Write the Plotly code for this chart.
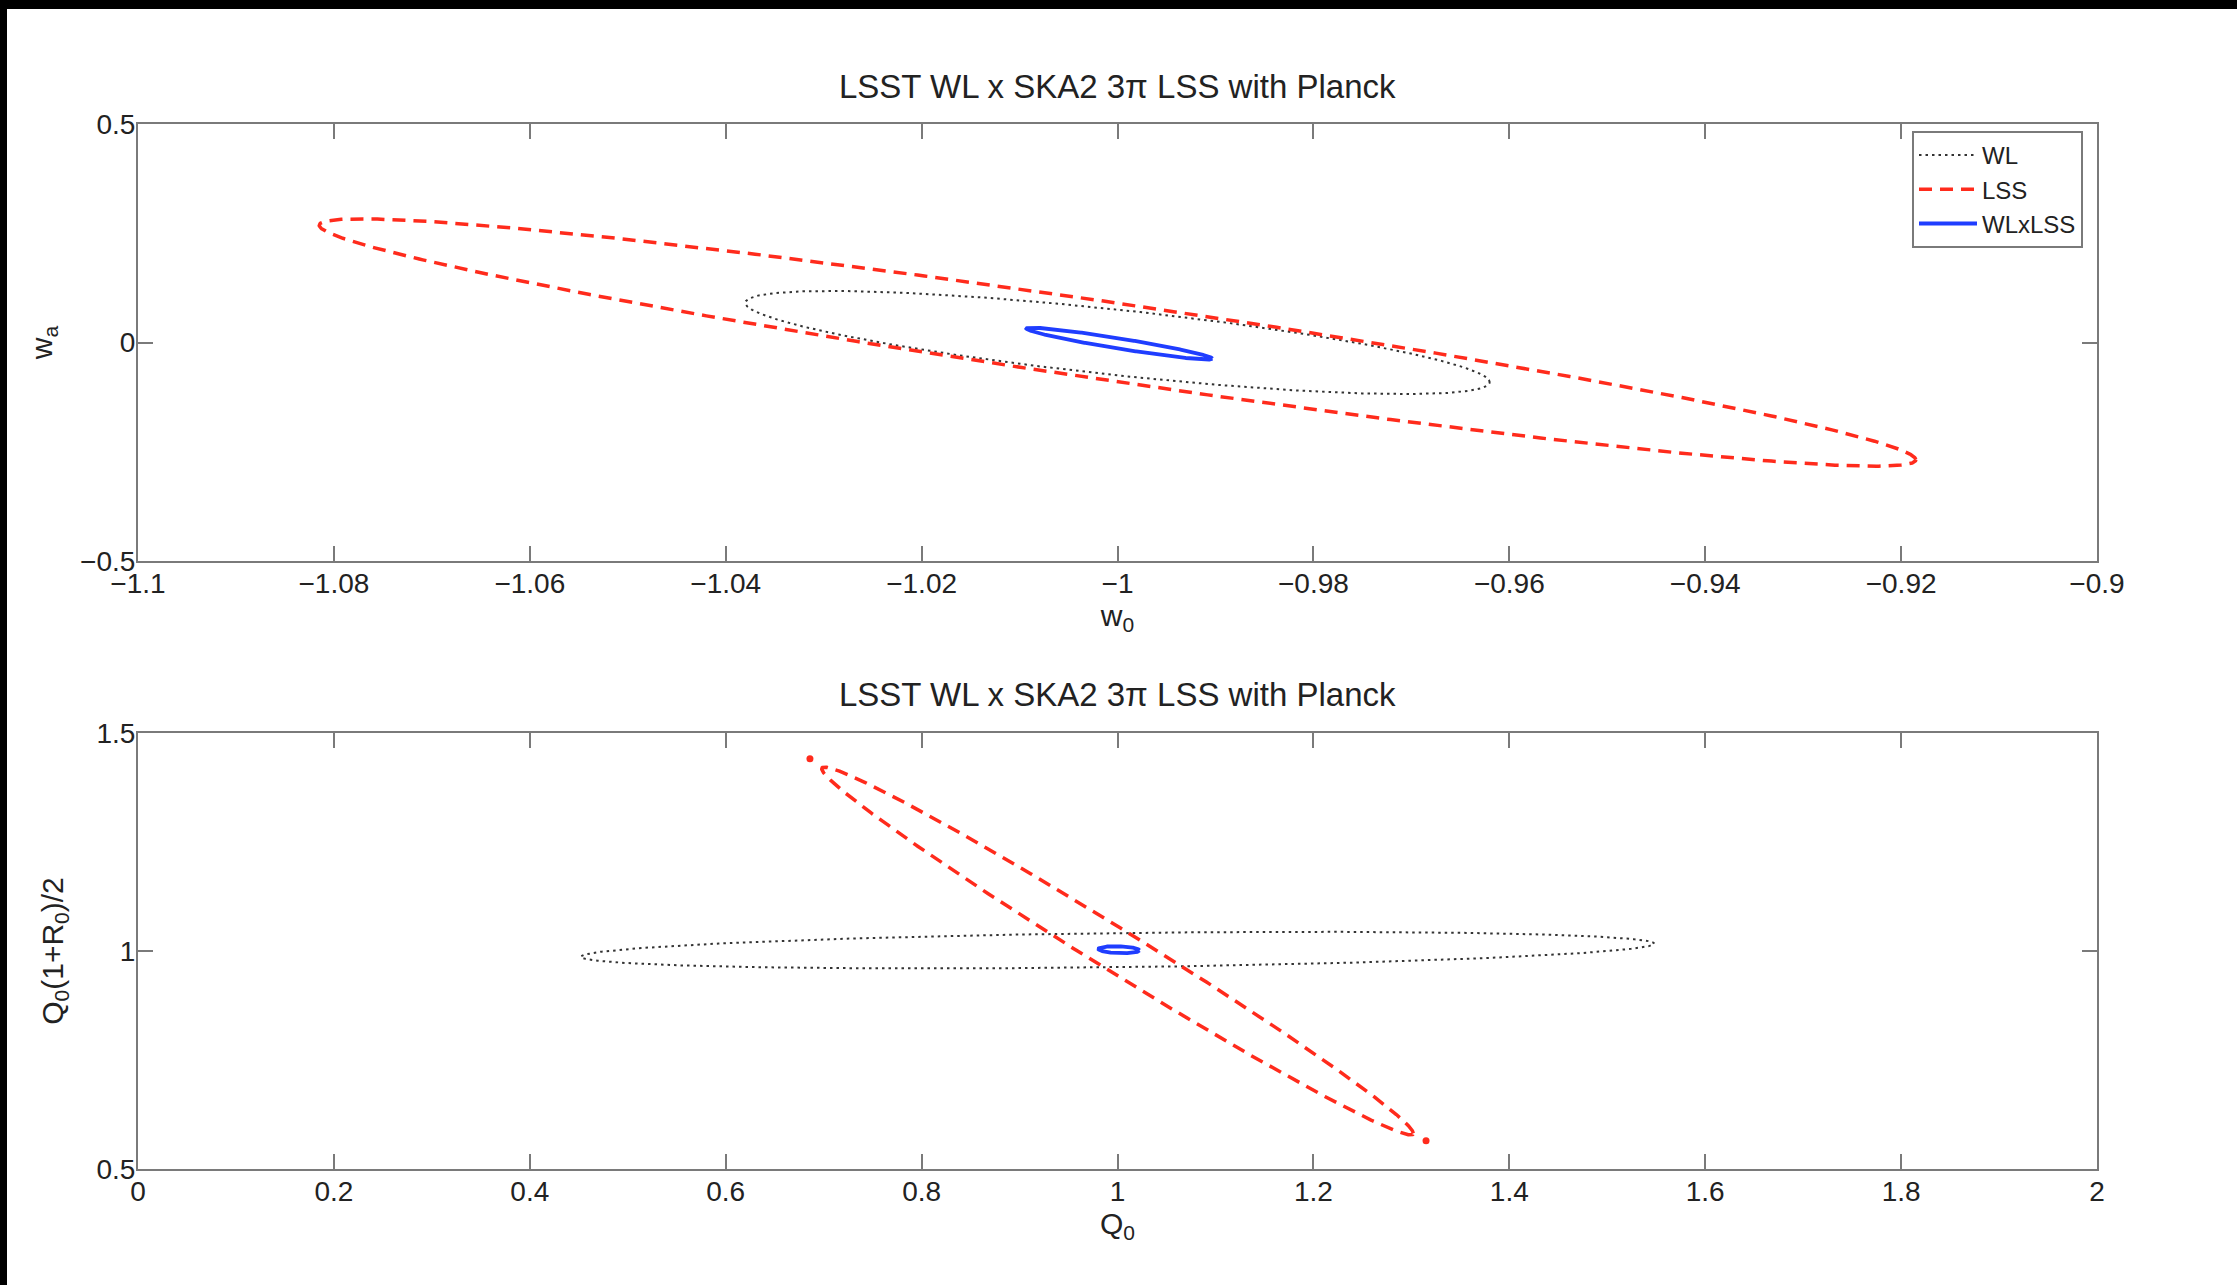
import numpy as np
import plotly.graph_objects as go

# ---------------- data ----------------
series_names = ["WL", "LSS", "WLxLSS"]

# Top panel: w0 - wa ellipses (centre, half extents along each axis, correlation)
top_w0_center = [-1.0, -1.0, -0.9998]
top_wa_center = [0.0, 0.0, -0.0025]
top_w0_half = [0.038, 0.0815, 0.0095]
top_wa_half = [0.118, 0.283, 0.0365]
top_rho = [-0.77, -0.948, -0.945]

# Bottom panel: Q0 - Q0(1+R0)/2 ellipses
bot_q_center = [1.0, 1.0, 1.0015]
bot_r_center = [1.002, 1.0, 1.003]
bot_q_half = [0.548, 0.302, 0.021]
bot_r_half = [0.042, 0.422, 0.008]
bot_rho = [0.357, -0.9908, -0.2]

# isolated red points at the ends of the LSS contour (bottom panel)
lss_dot_q = [0.686, 1.315]
lss_dot_r = [1.441, 0.565]

top_xticks = [-1.1, -1.08, -1.06, -1.04, -1.02, -1.0, -0.98, -0.96, -0.94, -0.92, -0.9]
top_xtext = ["−1.1", "−1.08", "−1.06", "−1.04", "−1.02", "−1", "−0.98", "−0.96", "−0.94", "−0.92", "−0.9"]
top_yticks = [-0.5, 0, 0.5]
top_ytext = ["−0.5", "0", "0.5"]
bot_xticks = [0, 0.2, 0.4, 0.6, 0.8, 1.0, 1.2, 1.4, 1.6, 1.8, 2.0]
bot_xtext = ["0", "0.2", "0.4", "0.6", "0.8", "1", "1.2", "1.4", "1.6", "1.8", "2"]
bot_yticks = [0.5, 1.0, 1.5]
bot_ytext = ["0.5", "1", "1.5"]

title_text = "LSST WL x SKA2 3π LSS with Planck"

# ---------------- styling ----------------
OFF_X, OFF_Y = 7, 9          # dark page frame on the left and top
W, H = 2237 - OFF_X, 1285 - OFF_Y
ML, MR, MT, MB = 131, 140, 115, 116
PW, PH = W - ML - MR, H - MT - MB
FONT = "Liberation Sans, Arial, Helvetica, sans-serif"
TXT = "#222222"
AX = "#7a7a7a"


def px_y(page_y):
    return (H - MB - (page_y - OFF_Y)) / PH


def px_x(page_x):
    return (page_x - OFF_X - ML) / PW


styles = [
    dict(color="#333333", width=2, dash="2.5px,4px"),
    dict(color="#ff2b1c", width=3.5, dash="13px,8px"),
    dict(color="#1f3dff", width=3.8, dash="solid"),
]


def ellipse(cx, cy, ax, ay, rho, n=721):
    t = np.linspace(0, 2 * np.pi, n)
    x = cx + ax * np.cos(t)
    y = cy + ay * (rho * np.cos(t) + np.sqrt(1 - rho ** 2) * np.sin(t))
    return x, y


fig = go.Figure()

for i, name in enumerate(series_names):
    x, y = ellipse(top_w0_center[i], top_wa_center[i], top_w0_half[i], top_wa_half[i], top_rho[i])
    fig.add_trace(go.Scatter(x=x, y=y, mode="lines", name=name, line=styles[i],
                             xaxis="x", yaxis="y", showlegend=True))

for i, name in enumerate(series_names):
    x, y = ellipse(bot_q_center[i], bot_r_center[i], bot_q_half[i], bot_r_half[i], bot_rho[i])
    fig.add_trace(go.Scatter(x=x, y=y, mode="lines", name=name, line=styles[i],
                             xaxis="x2", yaxis="y2", showlegend=False))

fig.add_trace(go.Scatter(x=lss_dot_q, y=lss_dot_r, mode="markers", name="LSS",
                         marker=dict(color="#ff2b1c", size=7), xaxis="x2", yaxis="y2",
                         showlegend=False))

top_dom = [px_y(561), 1.0]
bot_dom = [0.0, px_y(733)]

axis_common = dict(
    showline=True, linecolor=AX, linewidth=2, mirror="ticks",
    ticks="inside", ticklen=15, tickwidth=2, tickcolor=AX,
    showgrid=False, zeroline=False,
    tickfont=dict(family=FONT, size=28, color=TXT),
    title_font=dict(family=FONT, size=30, color=TXT),
)
xticks_extra = dict(ticklabelstandoff=-4)
yticks_extra = dict(ticklabelstandoff=-5)

fig.update_layout(
    width=W, height=H,
    margin=dict(l=ML, r=MR, t=MT, b=MB, autoexpand=False),
    paper_bgcolor="white", plot_bgcolor="white",
    font=dict(family=FONT, color=TXT),
    xaxis=dict(domain=[0, 1], anchor="y", range=[-1.1, -0.9],
               tickvals=top_xticks, ticktext=top_xtext,
               title=dict(text="w<sub>0</sub>", standoff=0), **axis_common, **xticks_extra),
    yaxis=dict(domain=top_dom, anchor="x", range=[-0.5, 0.5],
               tickvals=top_yticks, ticktext=top_ytext,
               title=dict(text="w<sub>a</sub>", standoff=19), **axis_common, **yticks_extra),
    xaxis2=dict(domain=[0, 1], anchor="y2", range=[0, 2],
                tickvals=bot_xticks, ticktext=bot_xtext,
                title=dict(text="Q<sub>0</sub>", standoff=0), **axis_common, **xticks_extra),
    yaxis2=dict(domain=bot_dom, anchor="x2", range=[0.5, 1.5],
                tickvals=bot_yticks, ticktext=bot_ytext,
                title=dict(text="Q<sub>0</sub>(1+R<sub>0</sub>)/2", standoff=24),
                **axis_common, **yticks_extra),
    legend=dict(x=px_x(1912), y=px_y(131), xanchor="left", yanchor="top",
                bgcolor="white", bordercolor=AX, borderwidth=2,
                font=dict(family=FONT, size=24, color=TXT),
                itemwidth=58, tracegroupgap=0),
    showlegend=True,
)

fig.add_annotation(text=title_text, xref="paper", yref="paper", x=0.5,
                   y=px_y(87), xanchor="center", yanchor="middle",
                   showarrow=False, font=dict(family=FONT, size=33, color=TXT))
fig.add_annotation(text=title_text, xref="paper", yref="paper", x=0.5,
                   y=px_y(695), xanchor="center", yanchor="middle",
                   showarrow=False, font=dict(family=FONT, size=33, color=TXT))

# dark page frame (top and left edges) around the white figure
frame_js = ("document.body.style.backgroundColor='black';"
            "document.body.style.margin='%dpx 0 0 %dpx';" % (OFF_Y, OFF_X))

fig.write_html("out.html", post_script=frame_js)
